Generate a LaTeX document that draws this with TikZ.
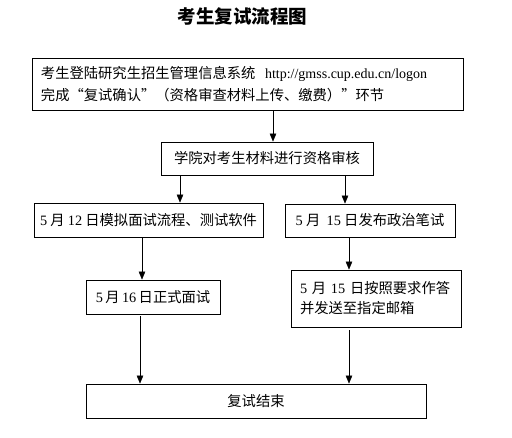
\documentclass[tikz,border=0pt]{standalone}
\usepackage{fontspec}
\setmainfont{Liberation Serif}
\newfontfamily\cjk{Noto Sans CJK SC}
\usetikzlibrary{arrows.meta,positioning}

\begin{document}
\begin{tikzpicture}[x=1pt,y=-1pt,
  block/.style={draw,line width=0.8pt,inner sep=0pt,align=center,font=\cjk\fontsize{14.3}{22}\selectfont},
  >={Triangle[length=8pt,width=6.5pt]}
]
\useasboundingbox (0,0) rectangle (512,437);
\node[font=\cjk\bfseries\fontsize{18.5}{20}\selectfont] (title) at (242.5,16) {考生复试流程图};
\node[block,text width=413pt,align=left,inner xsep=9pt,minimum height=52pt] (login) at (247.5,84)
  {考生登陆研究生招生管理信息系统~~{\rmfamily\fontsize{14}{22}\selectfont http://gmss.cup.edu.cn/logon}\\
   完成“复试确认”（资格审查材料上传、缴费）”环节};
\node[block,minimum width=212pt,minimum height=33pt] (check) at (267,158.5) {学院对考生材料进行资格审核};
\node[block,minimum width=229pt,minimum height=34pt] (mock) at (148.5,220) {\textrm{5}~月~\textrm{12}~日模拟面试流程、测试软件};
\node[block,minimum width=170pt,minimum height=33pt] (pol) at (370,220.5) {\textrm{5}~月~~\textrm{15}~日发布政治笔试};
\node[block,minimum width=134pt,minimum height=34pt] (intv) at (153,297) {\textrm{5}\,月\,\textrm{16}\,日正式面试};
\node[block,text width=152pt,align=left,inner xsep=9pt,minimum height=57pt] (answer) at (376,298.5)
  {\textrm{5}~月~\textrm{15}~日按照要求作答\\[-2pt]并发送至指定邮箱};
\node[block,minimum width=340pt,minimum height=34pt] (done) at (256,401) {复试结束};
\draw[->] (login.south -| 273,0) -- (check.north -| 273,0);
\draw[->] (check.south -| 180,0) -- (mock.north -| 180,0);
\draw[->] (check.south -| 345,0) -- (pol.north -| 345,0);
\draw[->] (mock.south -| 142,0) -- (intv.north -| 142,0);
\draw[->] (pol.south -| 349,0) -- (answer.north -| 349,0);
\draw[->,shorten <=2pt] (intv.south -| 140,0) -- (done.north -| 140,0);
\draw[->,shorten <=3pt] (answer.south -| 349,0) -- (done.north -| 349,0);
\end{tikzpicture}
\end{document}
